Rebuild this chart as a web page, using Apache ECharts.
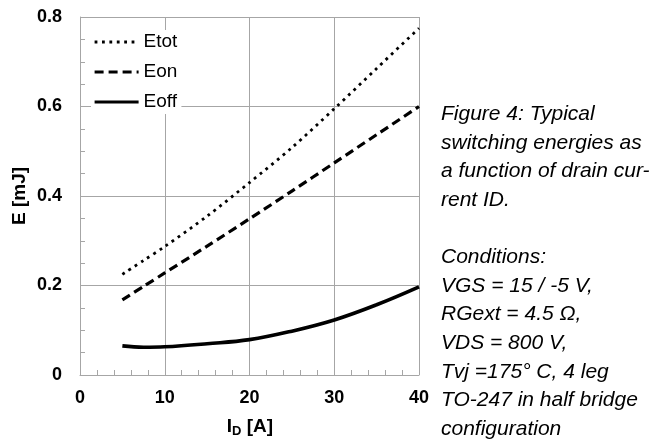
<!DOCTYPE html>
<html>
<head>
<meta charset="utf-8">
<script src="https://cdn.jsdelivr.net/npm/echarts@6/dist/echarts.min.js"></script>
<style>html,body{margin:0;padding:0;background:#fff}#c{width:660px;height:445px}</style>
</head>
<body>
<div id="c"></div>
<script>
const currents = [5, 7.5, 10, 15, 20, 25, 30, 35, 40];
const eTot = [0.225, 0.256, 0.287, 0.355, 0.430, 0.508, 0.595, 0.685, 0.775];
const eOn  = [0.168, 0.198, 0.228, 0.288, 0.349, 0.411, 0.474, 0.537, 0.600];
const eOff = [0.065, 0.062, 0.063, 0.070, 0.079, 0.098, 0.123, 0.157, 0.197];
const xTicks = [0, 10, 20, 30, 40];
const yTicks = [0, 0.2, 0.4, 0.6, 0.8];
const noteLines = [
  'Figure 4: Typical',
  'switching energies as',
  'a function of drain cur-',
  'rent ID.',
  '',
  'Conditions:',
  'VGS = 15 / -5 V,',
  'RGext = 4.5 \u03A9,',
  'VDS = 800 V,',
  'Tvj =175\u00B0 C, 4 leg',
  'TO-247 in half bridge',
  'configuration'
];

const pairs = arr => currents.map((x, i) => [x, arr[i]]);
const FONT = '"Liberation Sans", Arial, sans-serif';
const gridColor = '#a6a6a6';

const chart = echarts.init(document.getElementById('c'), null, {renderer: 'canvas'});
chart.setOption({
  animation: false,
  backgroundColor: '#fff',
  color: ['#000', '#000', '#000'],
  grid: {left: 80, right: 241, top: 17, bottom: 70, containLabel: false},
  xAxis: {
    type: 'value', min: xTicks[0], max: xTicks[xTicks.length - 1], interval: 10,
    axisLine: {show: true, lineStyle: {color: gridColor, width: 1}},
    axisTick: {show: true, inside: true, length: 5, lineStyle: {color: gridColor}},
    minorTick: {show: true, splitNumber: 5, length: 5, lineStyle: {color: gridColor}},
    splitLine: {show: true, lineStyle: {color: gridColor, width: 1}},
    axisLabel: {margin: 14, fontFamily: FONT, fontWeight: 'bold', fontSize: 18, color: '#000'}
  },
  yAxis: {
    type: 'value', min: yTicks[0], max: yTicks[yTicks.length - 1], interval: 0.2,
    axisLine: {show: true, lineStyle: {color: gridColor, width: 1}},
    axisTick: {show: true, inside: true, length: 5, lineStyle: {color: gridColor}},
    minorTick: {show: true, splitNumber: 4, length: 5, lineStyle: {color: gridColor}},
    splitLine: {show: true, lineStyle: {color: gridColor, width: 1}},
    axisLabel: {margin: 18, fontFamily: FONT, fontWeight: 'bold', fontSize: 18, color: '#000',
      formatter: v => (v === 0 ? '0' : v.toFixed(1))}
  },
  legend: {
    orient: 'vertical', left: 91, top: 30,
    backgroundColor: '#fff', padding: [2, 4, 2, 2],
    itemWidth: 44, itemHeight: 20, itemGap: 10,
    itemStyle: {color: 'rgba(0,0,0,0)', borderWidth: 0, opacity: 0},
    lineStyle: {width: 3.2},
    textStyle: {fontFamily: FONT, fontSize: 19, color: '#000', lineHeight: 20},
    data: ['Etot', 'Eon', 'Eoff']
  },
  series: [
    {name: 'Etot', type: 'line', data: pairs(eTot), symbol: 'none', smooth: 0.3,
      itemStyle: {color: '#000'},
      lineStyle: {color: '#000', width: 2.8, type: [2.8, 4.6], cap: 'butt'}, z: 3},
    {name: 'Eon', type: 'line', data: pairs(eOn), symbol: 'none', smooth: 0.3,
      itemStyle: {color: '#000'},
      lineStyle: {color: '#000', width: 3.2, type: [9, 5], cap: 'butt'}, z: 3},
    {name: 'Eoff', type: 'line', data: pairs(eOff), symbol: 'none', smooth: 0.4,
      itemStyle: {color: '#000'},
      lineStyle: {color: '#000', width: 3.6, type: 'solid'}, z: 3}
  ],
  graphic: [
    {type: 'text', left: 441, top: 100,
      style: {text: noteLines.join('\n'), font: 'italic 21px ' + FONT, fill: '#000', lineHeight: 28.6}},
    {type: 'text', x: 20, y: 196, rotation: Math.PI / 2,
      style: {text: 'E [mJ]', font: 'bold 19px ' + FONT, fill: '#000', align: 'center', verticalAlign: 'middle'}},
    {type: 'text', x: 250, y: 427,
      style: {
        text: '{a|I}{s|D}{a| [A]}', align: 'center', verticalAlign: 'middle',
        rich: {
          a: {font: 'bold 19px ' + FONT, fill: '#000', verticalAlign: 'middle'},
          s: {font: 'bold 13px ' + FONT, fill: '#000', verticalAlign: 'bottom', padding: [8, 0, 0, 0]}
        }
      }}
  ]
});
</script>
</body>
</html>
